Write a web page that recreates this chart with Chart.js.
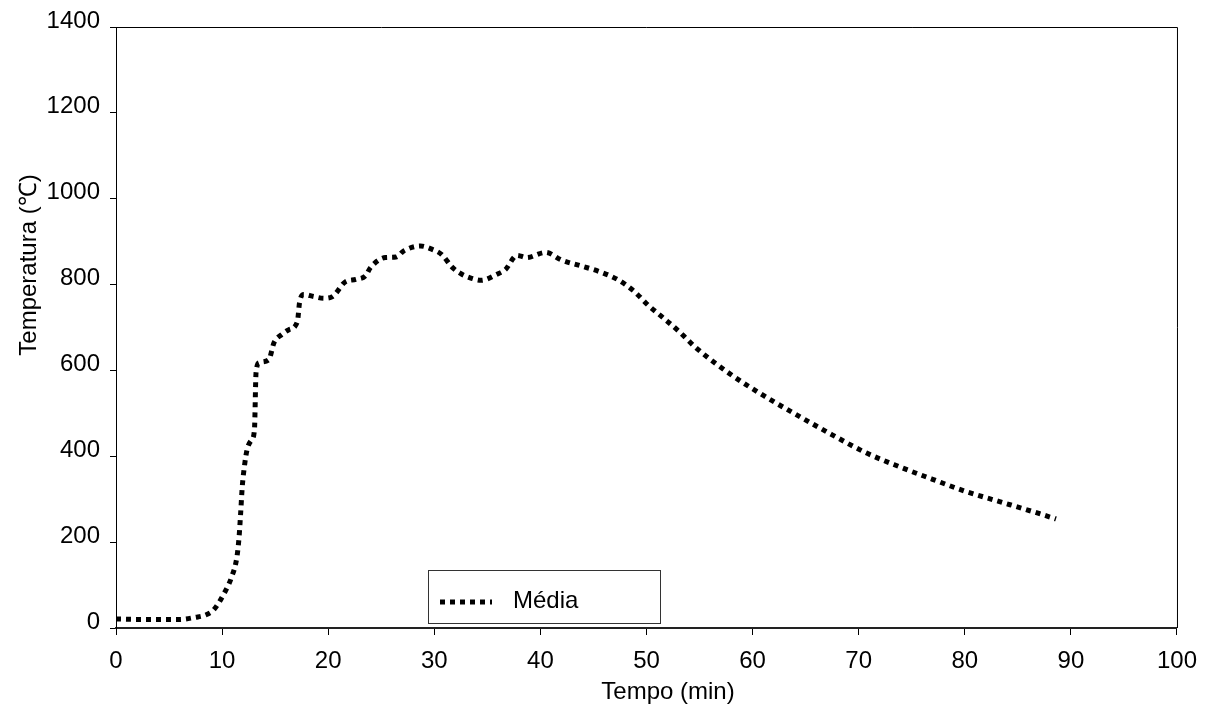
<!DOCTYPE html>
<html>
<head>
<meta charset="utf-8">
<script src="https://cdn.jsdelivr.net/npm/chart.js@4"></script>
<style>
  html, body { margin: 0; padding: 0; background: #fff; }
  #wrap { width: 1209px; height: 708px; }
</style>
</head>
<body>
<div id="wrap"><canvas id="chart" width="1209" height="708"></canvas></div>
<script>
// values
const timeMin = [0, 2, 4, 6, 7.5, 8.4, 9.2, 10.2, 10.9, 11.4, 11.6, 11.75, 11.9, 12.1, 12.35, 12.8, 13.05, 13.2, 13.5,
    14.4, 14.9, 15.65, 16.3, 17.1, 17.3, 17.7, 18.65, 19.6, 20.4, 21.6, 22.6, 23.5, 24, 25.4, 26.4, 27.1, 28.7, 29.8,
    30.7, 31.7, 32.6, 33.6, 34.4, 35.9, 36.7, 37.8, 38.7, 40.5, 42, 43.9, 45.7, 47.4, 48.8, 50.2, 51.7, 53.1, 54.7,
    58.1, 61.2, 64.4, 67.5, 70.7, 73.8, 76.9, 80.1, 83.2, 86.3, 88.6];
const tempMedia = [21, 20, 20, 20, 25, 30, 42, 81, 119, 166, 212, 268, 329, 376, 415, 439, 462, 595, 618,
    625, 665, 684, 695, 714, 758, 777, 772, 768, 772, 806, 812, 820, 840, 863, 864, 878, 890, 882,
    870, 840, 824, 814, 810, 824, 835, 868, 863, 875, 857, 843, 829, 810, 785, 751, 720, 690, 652,
    588, 539, 493, 450, 408, 376, 347, 318, 295, 272, 254];
const seriesLabel = 'Média';
const xTitle = 'Tempo (min)';
const yTitle = 'Temperatura (℃)';
const xTicks = [0, 10, 20, 30, 40, 50, 60, 70, 80, 90, 100];
const yTicks = [0, 200, 400, 600, 800, 1000, 1200, 1400];

const FONT = '"Liberation Sans", Arial, sans-serif';
const DASH = [5, 5];

// frame, axis titles and legend box (placed like the original, off-centre)
const frameAndLegend = {
    id: 'frameAndLegend',
    afterDraw(chart) {
        const ctx = chart.ctx;
        const a = chart.chartArea;
        ctx.save();
        ctx.strokeStyle = '#000';
        ctx.lineWidth = 1;
        ctx.beginPath();
        ctx.moveTo(a.left, a.top + 0.5);
        ctx.lineTo(a.right + 0.5, a.top + 0.5);
        ctx.lineTo(a.right + 0.5, a.bottom);
        ctx.stroke();

        ctx.fillStyle = '#000';
        ctx.font = '24px ' + FONT;
        ctx.textBaseline = 'middle';
        ctx.textAlign = 'center';
        ctx.fillText(xTitle, 668, 692);
        ctx.save();
        ctx.translate(29, 265);
        ctx.rotate(-Math.PI / 2);
        ctx.fillText(yTitle, 0, 0);
        ctx.restore();

        // legend
        const lx = 428.5, ly = 570.5, lw = 232, lh = 53;
        ctx.fillStyle = '#fff';
        ctx.fillRect(lx, ly, lw, lh);
        ctx.strokeStyle = '#333';
        ctx.strokeRect(lx, ly, lw, lh);
        ctx.strokeStyle = '#000';
        ctx.lineWidth = 5;
        ctx.setLineDash(DASH);
        ctx.beginPath();
        ctx.moveTo(440, 602);
        ctx.lineTo(492, 602);
        ctx.stroke();
        ctx.setLineDash([]);
        ctx.fillStyle = '#000';
        ctx.textAlign = 'left';
        ctx.fillText(seriesLabel, 513, 601);
        ctx.restore();
    }
};

const points = timeMin.map((t, i) => ({ x: t, y: tempMedia[i] }));

new Chart(document.getElementById('chart').getContext('2d'), {
    type: 'line',
    data: {
        datasets: [{
            label: seriesLabel,
            data: points,
            borderColor: '#000',
            borderWidth: 5,
            borderDash: DASH,
            borderCapStyle: 'butt',
            pointRadius: 0,
            fill: false,
            cubicInterpolationMode: 'monotone'
        }]
    },
    options: {
        responsive: false,
        animation: false,
        layout: { padding: { top: 27, right: 31, left: 0, bottom: 0 } },
        plugins: {
            legend: { display: false },
            tooltip: { enabled: false }
        },
        scales: {
            x: {
                type: 'linear',
                min: 0,
                max: 100,
                afterBuildTicks: s => { s.ticks = xTicks.map(v => ({ value: v })); },
                afterFit: s => { s.height = 80; },
                grid: { drawOnChartArea: false, color: '#000', tickLength: 7 },
                border: { color: '#222', width: 2 },
                ticks: { color: '#000', font: { family: FONT, size: 24 }, padding: 12, maxRotation: 0,
                    callback: v => String(v) }
            },
            y: {
                type: 'linear',
                min: 0,
                max: 1400,
                afterBuildTicks: s => { s.ticks = yTicks.map(v => ({ value: v })); },
                afterFit: s => { s.width = 116; },
                grid: { drawOnChartArea: false, color: '#000', tickLength: 6 },
                border: { color: '#000', width: 1 },
                ticks: { color: '#000', font: { family: FONT, size: 24 }, padding: 10, labelOffset: -6,
                    callback: v => String(v) }
            }
        }
    },
    plugins: [frameAndLegend]
});
</script>
</body>
</html>
